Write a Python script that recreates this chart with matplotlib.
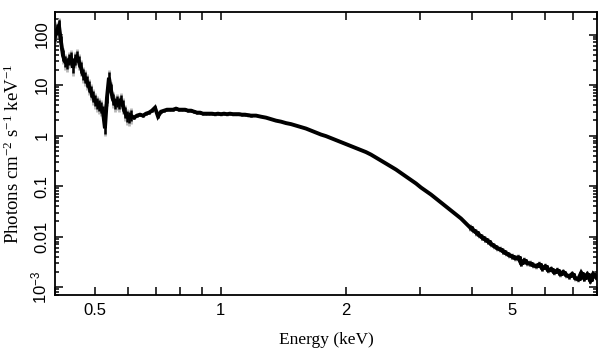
import numpy as np
import matplotlib
matplotlib.use("Agg")
import matplotlib.pyplot as plt
from matplotlib.ticker import LogLocator, FixedLocator, FixedFormatter, NullFormatter

# ---- data ----
energy_low = [0.400, 0.4044, 0.4089, 0.4135, 0.4181, 0.4227, 0.4274, 0.4322, 0.4370, 0.4418,
              0.4467, 0.4517, 0.4567, 0.4618, 0.4669, 0.4721, 0.4773, 0.4826, 0.4880, 0.4934,
              0.4989, 0.5044, 0.5100, 0.5157, 0.5214, 0.5272, 0.5331, 0.5390, 0.5450, 0.5510,
              0.5572, 0.5633, 0.5696, 0.5759, 0.5823, 0.5888, 0.5953, 0.6019, 0.6086]
flux_low = [94.7, 124, 149, 72.1, 38.1, 29.0, 26.5, 31.8, 34.8, 22.1,
            31.8, 36.4, 29.0, 22.1, 16.1, 14.0, 11.7, 9.30, 7.41, 5.90,
            4.92, 4.29, 3.92, 3.57, 2.98, 1.40, 5.64, 14.0, 8.11, 5.15,
            4.29, 4.70, 4.29, 4.92, 3.92, 2.85, 2.37, 2.27, 2.49]

energy_soft = [0.6190, 0.6293, 0.6399, 0.6506, 0.6615, 0.6725, 0.6838, 0.6952, 0.7068, 0.7187,
               0.7307, 0.7429, 0.7553, 0.7679, 0.7808, 0.7938, 0.8071, 0.8206, 0.8343, 0.8483,
               0.8624, 0.8769, 0.8915, 0.9064, 0.9216, 0.9370, 0.9527, 0.9686, 0.9848, 1.0013,
               1.0180, 1.0350, 1.0523, 1.0699, 1.0878, 1.1060, 1.1245, 1.1433, 1.1624, 1.1818]
flux_soft = [2.27, 2.49, 2.60, 2.49, 2.72, 2.85, 3.12, 3.57, 2.40, 2.98,
             3.12, 3.26, 3.26, 3.26, 3.42, 3.26, 3.26, 3.26, 3.12, 3.12,
             2.98, 2.85, 2.85, 2.72, 2.72, 2.72, 2.72, 2.66, 2.72, 2.66,
             2.72, 2.66, 2.72, 2.66, 2.66, 2.66, 2.60, 2.60, 2.54, 2.49]

energy_mid = [1.2148, 1.2488, 1.2838, 1.3198, 1.3568, 1.3948, 1.4339, 1.4741, 1.5154, 1.5579,
              1.6015, 1.6464, 1.6925, 1.7400, 1.7887, 1.8388, 1.8904, 1.9433, 1.9978, 2.0538,
              2.1113, 2.1705, 2.2313, 2.2938, 2.3581, 2.4242, 2.4921, 2.5619, 2.6337, 2.7075,
              2.7834, 2.8614, 2.9416, 3.0240, 3.1087, 3.1958, 3.2854, 3.3774, 3.4721, 3.5694,
              3.6694, 3.7722, 3.8779]
flux_mid = [2.49, 2.37, 2.27, 2.12, 1.98, 1.89, 1.77, 1.69, 1.58, 1.47,
            1.38, 1.26, 1.15, 1.05, 0.978, 0.893, 0.815, 0.744, 0.679, 0.620,
            0.566, 0.517, 0.472, 0.421, 0.368, 0.321, 0.280, 0.244, 0.213, 0.182,
            0.155, 0.132, 0.113, 0.0938, 0.0800, 0.0682, 0.0569, 0.0474, 0.0395, 0.0330,
            0.0275, 0.0229, 0.0182]

energy_hard = [3.966, 4.032, 4.099, 4.168, 4.238, 4.309, 4.381, 4.454, 4.529, 4.604,
               4.681, 4.760, 4.839, 4.920, 5.003, 5.086, 5.171, 5.258, 5.346, 5.435,
               5.526, 5.619, 5.713, 5.808, 5.905, 6.004, 6.105, 6.207, 6.311, 6.416,
               6.524, 6.633, 6.744, 6.857, 6.971, 7.088, 7.206, 7.327, 7.449, 7.574,
               7.701, 7.830, 7.961]
flux_hard = [0.0152, 0.0136, 0.0121, 0.0108, 0.00964, 0.00881, 0.00804, 0.00718, 0.00655, 0.00598,
             0.00559, 0.00510, 0.00466, 0.00435, 0.00406, 0.00379, 0.00388, 0.00295, 0.00339, 0.00302,
             0.00295, 0.00270, 0.00264, 0.00282, 0.00235, 0.00258, 0.00215, 0.00230, 0.00196, 0.00215,
             0.00183, 0.00201, 0.00175, 0.00163, 0.00183, 0.00153, 0.00143, 0.00192, 0.00149, 0.00179,
             0.00136, 0.00183, 0.00156]

# typical error (in dex) of each segment
err_dex = {"low": 0.16, "soft": 0.035, "mid": 0.01, "hard": 0.06}

x_tick_values = [0.5, 1, 2, 5]
x_tick_labels = ["0.5", "1", "2", "5"]
y_tick_values = [1e-3, 1e-2, 1e-1, 1, 10, 100]
y_tick_labels = [r"$\mathregular{10^{-3}}$", "0.01", "0.1", "1", "10", "100"]

# ---- figure ----
plt.rcParams["font.family"] = ["Liberation Sans", "DejaVu Sans"]
fig = plt.figure(figsize=(6.09, 3.57), dpi=100)
ax = fig.add_axes([55 / 609, 1 - 295 / 357, 542 / 609, 283 / 357])

segments = [(energy_low, flux_low, "low"), (energy_soft, flux_soft, "soft"),
            (energy_mid, flux_mid, "mid"), (energy_hard, flux_hard, "hard")]
E = np.concatenate([np.array(s[0]) for s in segments])
F = np.concatenate([np.array(s[1]) for s in segments])
D = np.concatenate([np.full(len(s[0]), err_dex[s[2]]) for s in segments])
lo = F * (1 - 10 ** (-D))
hi = F * (10 ** D - 1)

ax.errorbar(E, F, yerr=[lo, hi], fmt="none", ecolor="0.72", elinewidth=2.0, capsize=0, zorder=2)
ax.errorbar(E, F, yerr=[lo * 0.7, hi * 0.7], fmt="none", ecolor="black", elinewidth=1.8,
            capsize=0, zorder=2)
ax.plot(E, F, color="black", lw=2.8, solid_joinstyle="miter", zorder=3)
# step look in the noisy hard tail
ax.step(energy_hard, flux_hard, where="mid", color="black", lw=2.2, zorder=3)

ax.set_xscale("log")
ax.set_yscale("log")
ax.set_xlim(0.4, 8.0)
ax.set_ylim(7e-4, 280)

ax.xaxis.set_major_locator(FixedLocator(x_tick_values))
ax.xaxis.set_major_formatter(FixedFormatter(x_tick_labels))
ax.xaxis.set_minor_locator(FixedLocator([0.4, 0.6, 0.7, 0.8, 0.9, 3, 4, 6, 7, 8]))
ax.xaxis.set_minor_formatter(NullFormatter())
ax.yaxis.set_major_locator(FixedLocator(y_tick_values))
ax.yaxis.set_major_formatter(FixedFormatter(y_tick_labels))
ax.yaxis.set_minor_locator(LogLocator(base=10, subs=np.arange(2, 10), numticks=20))
ax.yaxis.set_minor_formatter(NullFormatter())

ax.tick_params(axis="both", which="both", direction="in", top=True, right=True,
               width=1.1, labelsize=12)
ax.tick_params(axis="x", which="both", length=6, pad=6)
ax.tick_params(axis="y", which="major", length=6, pad=4)
ax.tick_params(axis="y", which="minor", length=3)
for lab in ax.get_yticklabels():
    lab.set_rotation(90)
    lab.set_va("center")
for sp in ax.spines.values():
    sp.set_linewidth(1.3)

serif = ["Liberation Serif", "DejaVu Serif"]
ax.set_xlabel("Energy (keV)", family=serif, fontsize=12.5, labelpad=10)
ax.set_ylabel(r"Photons cm$\mathregular{^{-2}}$ s$\mathregular{^{-1}}$ keV$\mathregular{^{-1}}$",
              family=serif, fontsize=13.5, labelpad=5)

fig.savefig("out.png", dpi=100)
